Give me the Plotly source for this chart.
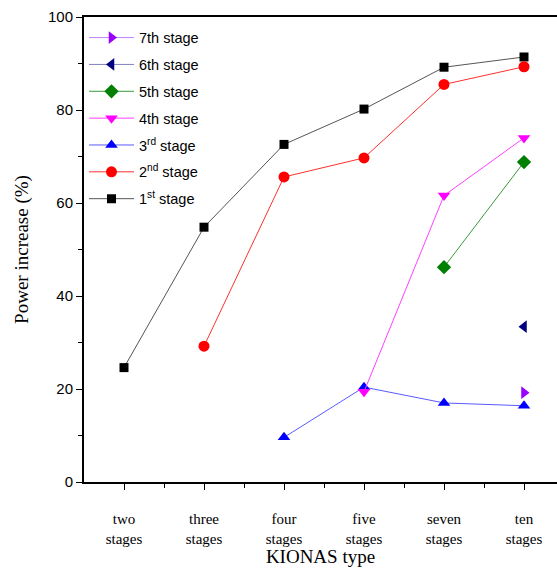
import plotly.graph_objects as go

categories = ["two<br>stages", "three<br>stages", "four<br>stages", "five<br>stages", "seven<br>stages", "ten<br>stages"]
xpos = [1, 2, 3, 4, 5, 6]

stage1 = [24.6, 54.8, 72.6, 80.2, 89.2, 91.4]
stage2 = [None, 29.2, 65.6, 69.7, 85.5, 89.3]
stage3 = [None, None, 9.6, 20.4, 17.0, 16.4]
stage4 = [None, None, None, 19.4, 61.6, 74.0]
stage5 = [None, None, None, None, 46.2, 68.8]
stage6 = [None, None, None, None, None, 33.4]
stage7 = [None, None, None, None, None, 19.2]

series = [
    ("1<sup>st</sup> stage", stage1, "#000000", "#555555", "square", 9),
    ("2<sup>nd</sup> stage", stage2, "#FF0000", "#FF3030", "circle", 11),
    ("3<sup>rd</sup> stage", stage3, "#0000FF", "#5A5AFF", "triangle-up", 11),
    ("4th stage", stage4, "#FF00FF", "#FF40FF", "triangle-down", 11),
    ("5th stage", stage5, "#007F00", "#3A9A3A", "diamond", 11),
    ("6th stage", stage6, "#000080", "#8080C0", "triangle-left", 11),
    ("7th stage", stage7, "#9900FF", "#C080FF", "triangle-right", 11),
]

fig = go.Figure()
for i, (name, vals, mcol, lcol, sym, sz) in enumerate(series):
    fig.add_trace(go.Scatter(
        x=xpos, y=vals, name=name, mode="lines+markers",
        line=dict(color=lcol, width=1),
        marker=dict(color=mcol, symbol=sym, size=sz),
        legendgroup="g%d" % i,
        legendrank=1000 - 10 * i,
    ))

fig.update_layout(
    width=557, height=572,
    margin=dict(l=84, r=0, t=17, b=90),
    plot_bgcolor="white", paper_bgcolor="white",
    showlegend=True,
    legend=dict(
        x=0.0, y=0.99, xanchor="left", yanchor="top",
        traceorder="grouped", tracegroupgap=5, itemwidth=45,
        font=dict(family="Liberation Sans, Arial", size=14.5, color="black"),
        bgcolor="rgba(0,0,0,0)", borderwidth=0,
    ),
    xaxis=dict(
        range=[0.5, 6.4125],
        tickvals=xpos, ticktext=categories,
        ticks="outside", ticklen=6, tickwidth=1, tickcolor="black",
        showline=True, linecolor="black", linewidth=2, mirror=True,
        showgrid=False, zeroline=False,
        ticklabelstandoff=16,
        minor=dict(tickvals=[1.5, 2.5, 3.5, 4.5, 5.5], ticks="outside", ticklen=4, tickcolor="black"),
        tickfont=dict(family="Liberation Serif, Times New Roman", size=15, color="black"),
        title=dict(text="KIONAS type", font=dict(family="Liberation Serif, Times New Roman", size=19, color="black"), standoff=2),
    ),
    yaxis=dict(
        range=[0, 100],
        tickvals=[0, 20, 40, 60, 80, 100],
        ticks="outside", ticklen=6, tickwidth=1, tickcolor="black",
        showline=True, linecolor="black", linewidth=2,
        showgrid=False, zeroline=False,
        minor=dict(tickvals=[10, 30, 50, 70, 90], ticks="outside", ticklen=4, tickcolor="black"),
        tickfont=dict(family="Liberation Sans, Arial", size=15, color="black"),
        title=dict(text="Power increase (%)", font=dict(family="Liberation Serif, Times New Roman", size=19, color="black"), standoff=14),
    ),
)

fig.write_html("out.html")
